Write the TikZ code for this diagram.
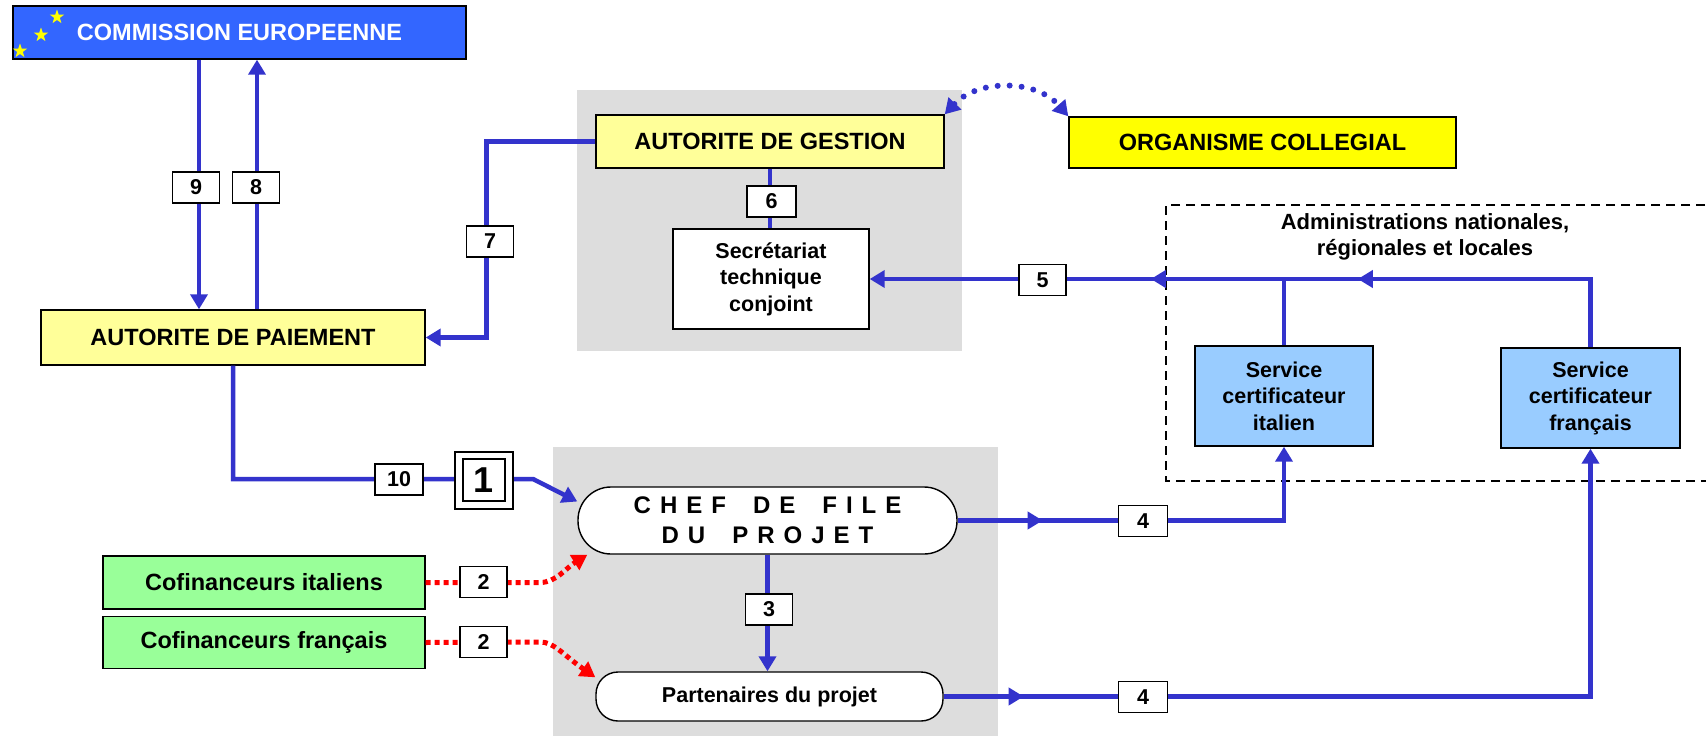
\documentclass[tikz,border=0pt]{standalone}
\usepackage{fontspec}
\setmainfont{Liberation Sans}
\usetikzlibrary{arrows.meta,shapes.geometric,decorations.markings}
\definecolor{cblue}{RGB}{51,102,255}
\definecolor{lblue}{RGB}{51,51,204}
\definecolor{pyel}{RGB}{255,255,153}
\definecolor{gyel}{RGB}{255,255,0}
\definecolor{gbg}{RGB}{221,221,221}
\definecolor{sblue}{RGB}{153,204,255}
\definecolor{cgreen}{RGB}{153,255,153}
\newcommand\fbig{\bfseries\fontsize{23.5}{28}\selectfont}
\newcommand\fsm{\bfseries\fontsize{21.5}{26.5}\selectfont}
\newcommand\lsp{\hspace{9pt}}
\tikzset{
  bx/.style={draw=black,line width=1.4pt,inner sep=0pt,align=center,font=\fbig},
  sbx/.style={draw=black,line width=1.4pt,inner sep=0pt,align=center,font=\fsm},
  lab/.style={draw=black,fill=white,line width=1.4pt,inner sep=0pt,minimum width=47pt,minimum height=31pt,font=\fsm},
  conn/.style={draw=lblue,line width=4.5pt},
  reddot/.style={draw=red,line width=5pt,dash pattern=on 5pt off 4pt},
  bluedot/.style={draw=lblue,line width=6pt,line cap=round,dash pattern=on 0pt off 12pt},
  midarr/.style={postaction={decorate,decoration={markings,mark=at position #1 with {\arrow{>}}}}},
  staryel/.style={star,star points=5,star point ratio=2.5,fill=gyel,minimum size=15pt,inner sep=0pt}
}
\begin{document}
\begin{tikzpicture}[x=1pt,y=-1pt,>={Triangle[length=15pt,width=17pt]}]
\useasboundingbox (0,0) rectangle (1706,736);
\clip (0,0) rectangle (1706,736);
% grey backgrounds
\fill[gbg] (577,90) rectangle (962,351);
\fill[gbg] (553,447) rectangle (998,736);
% dashed frame
\draw[line width=2.5pt,dash pattern=on 9pt off 6pt] (1720,205) -- (1166,205) -- (1166,481) -- (1720,481);

% main nodes
\node[bx,fill=cblue,text=white,minimum width=453pt,minimum height=53pt] (com) at (239.5,32.5) {COMMISSION EUROPEENNE};
\node[staryel] (s1) at (20,51) {};
\node[staryel] (s2) at (41,35) {};
\node[staryel] (s3) at (57,17) {};
\node[bx,fill=pyel,minimum width=384pt,minimum height=55pt] (paie) at (233,337.5) {AUTORITE DE PAIEMENT};
\node[bx,fill=pyel,minimum width=348pt,minimum height=53pt] (gest) at (770,141.5) {AUTORITE DE GESTION};
\node[bx,fill=gyel,minimum width=387pt,minimum height=51pt] (org) at (1262.5,142.5) {ORGANISME COLLEGIAL};
\node[sbx,fill=white,minimum width=196pt,minimum height=100pt] (sec) at (771,279) {Secrétariat\\technique\\conjoint};
\node[align=center,inner sep=0pt,font=\bfseries\fontsize{22}{26}\selectfont] (adm) at (1425,237) {Administrations nationales,\\régionales et locales};
\node[sbx,fill=sblue,minimum width=178pt,minimum height=100pt] (it) at (1284,396) {Service\\certificateur\\italien};
\node[sbx,fill=sblue,minimum width=179pt,minimum height=100pt] (fr) at (1590.5,398) {Service\\certificateur\\français};
\node[draw=black,line width=1.4pt,fill=white,rounded corners=33pt,minimum width=379pt,minimum height=67pt,inner sep=0pt,align=center,font=\bfseries\fontsize{24}{30}\selectfont] (chef) at (767.5,520.5)
  {C\lsp H\lsp E\lsp F\lsp\lsp\lsp D\lsp E\lsp\lsp\lsp F\lsp I\lsp L\lsp E\\D\lsp U\lsp\lsp\lsp P\lsp R\lsp O\lsp J\lsp E\lsp T};
\node[sbx,fill=white,rounded corners=22pt,minimum width=347pt,minimum height=49pt] (part) at (769.5,696.5) {Partenaires du projet};
\node[bx,fill=cgreen,minimum width=322pt,minimum height=53pt] (cofit) at (264,582.5) {Cofinanceurs italiens};
\node[bx,fill=cgreen,minimum width=322pt,minimum height=52pt] (cofr) at (264,642.5) {Cofinanceurs français};

\coordinate (c1) at (533,479);

% connectors
\draw[conn,->] ([xshift=-40.5pt]com.south) -- ([xshift=-40.5pt]com.south |- paie.north);
\draw[conn,<-] ([xshift=17.5pt]com.south) -- ([xshift=17.5pt]com.south |- paie.north);
\draw[conn,->] (gest.west) -- ++(-109,0) |- (paie.east);
\draw[conn] (gest.south) -- (gest.south |- sec.north);
\draw[conn,->,midarr=301pt,midarr=508pt] (fr.north) |- (sec.east);
\draw[conn] (it.north) -- (it.north |- sec.east);
\draw[conn,->,midarr=85pt] (chef.east) -| (it.south);
\draw[conn,->,midarr=80pt] (part.east) -| (fr.south);
\draw[conn,->] (chef.south) -- (chef.south |- part.north);
\draw[conn,->] (paie.south) |- (c1) -- ([yshift=19pt]chef.west);
\draw[bluedot,<->] (gest.north east) .. controls (978,79) and (1036,79) .. (org.north west);
\draw[reddot,->] (cofit.east) -- (540,582.5) .. controls (556,582.5) and (566,568) .. ([xshift=10pt]chef.south west);
\draw[reddot,->] (cofr.east) -- (540,642) .. controls (554,642) and (562,654) .. ([yshift=-6pt]part.north west);

% labels on connectors
\node[lab] (l9) at (196,187.5) {9};
\node[lab] (l8) at (256,187.5) {8};
\node[lab] (l7) at (490,241.5) {7};
\node[lab,minimum width=49pt] (l6) at (771.5,201.5) {6};
\node[lab] (l5) at (1042.5,280) {5};
\node[lab,minimum width=49pt] (l4a) at (1143,521) {4};
\node[lab,minimum width=49pt] (l4b) at (1143,697) {4};
\node[lab] (l3) at (769,609.5) {3};
\node[lab] (l2a) at (483.5,582) {2};
\node[lab] (l2b) at (483.5,642) {2};
\node[lab,minimum width=48pt] (l10) at (399,479.5) {10};
\node[draw=black,fill=white,line width=1.4pt,minimum width=58pt,minimum height=57pt,inner sep=0pt] (box1o) at (484,480.5) {};
\node[draw=black,fill=white,line width=1.4pt,minimum width=42pt,minimum height=42pt,inner sep=0pt,font=\bfseries\fontsize{36}{40}\selectfont] (box1) at (484,480) {1};
\end{tikzpicture}
\end{document}
